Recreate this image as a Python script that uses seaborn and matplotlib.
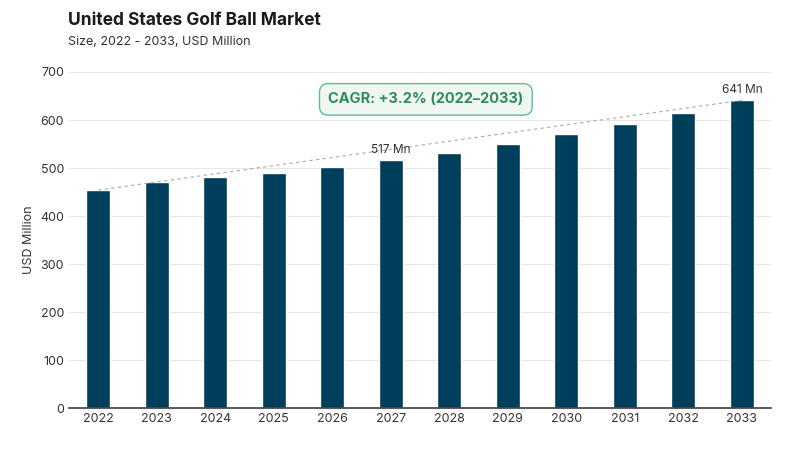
import matplotlib
matplotlib.use("Agg")
import matplotlib.pyplot as plt
import seaborn as sns
import pandas as pd

years = ["2022","2023","2024","2025","2026","2027","2028","2029","2030","2031","2032","2033"]
values = [454, 471, 481, 490, 502, 517, 531, 550, 571, 592, 615, 641]
labels = {5: "517 Mn", 11: "641 Mn"}

sns.set_theme(style="white")
plt.rcParams['font.family'] = ['Inter', 'DejaVu Sans']

fig = plt.figure(figsize=(8, 4.5), dpi=100)
ax = fig.add_axes([0.086, 0.093, 0.878, 0.747])
df = pd.DataFrame({"year": years, "value": values})
sns.barplot(data=df, x="year", y="value", color="#003f5c", saturation=1, width=0.41, ax=ax)
ax.set_xlim(-0.5, 11.5)
ax.set_ylim(0, 700)
ax.set_yticks(range(0, 701, 100))
ax.yaxis.grid(True, color="#e6e6e6", lw=0.8)
ax.set_axisbelow(True)
for s in ["top", "right", "left"]:
    ax.spines[s].set_visible(False)
ax.spines["bottom"].set_color("#444444")
ax.tick_params(axis="both", labelsize=9, colors="#333333", length=0)
ax.set_xlabel("")
ax.set_ylabel("USD Million", fontsize=9, color="#333333")
ax.plot([0, 11], [values[0], values[-1]], ls=(0, (3, 3)), color="#aaaaaa", lw=0.8)
for i, t in labels.items():
    ax.text(i, values[i] + 8, t, ha="center", va="bottom", fontsize=8.5, color="#333333")
ax.text(5.6, 643, "CAGR: +3.2% (2022–2033)", ha="center", va="center", fontsize=10.5,
        color="#2e8b57", fontweight="bold",
        bbox=dict(boxstyle="round,pad=0.6,rounding_size=0.6", fc="#f0f7f3", ec="#5cc08a", lw=1))
fig.text(0.085, 0.945, "United States Golf Ball Market", fontsize=12.5, fontweight="bold", color="#1a1a1a")
fig.text(0.085, 0.9, "Size, 2022 - 2033, USD Million", fontsize=9, color="#333333")
fig.savefig("out.png", dpi=100)
